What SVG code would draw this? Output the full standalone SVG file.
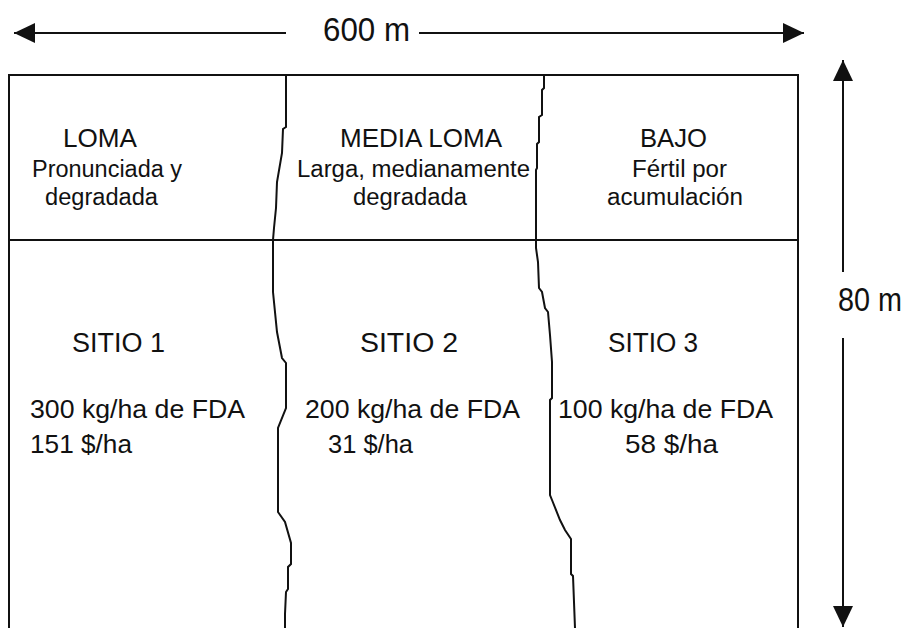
<svg xmlns="http://www.w3.org/2000/svg" width="912" height="628" viewBox="0 0 912 628">
<style>
.ln{fill:none;stroke:#111;stroke-width:2;stroke-linejoin:miter}
.t{font-family:"Liberation Sans",Arial,sans-serif;fill:#111}
.h{font-size:26px}
.s{font-size:27px}
.d{font-size:23px}
.v{font-size:25px}
.m{font-size:33px}
</style>
<defs>
<marker id="ah" markerUnits="userSpaceOnUse" markerWidth="22" markerHeight="22" refX="21" refY="10" orient="auto-start-reverse" viewBox="0 0 22 20">
<path d="M0,0 L21,10 L0,20 Z" fill="#111"/>
</marker>
</defs>
<rect width="912" height="628" fill="#fff"/>
<g id="frame">
<path class="ln" d="M9,628 V75 H798 V628"/>
<path class="ln" d="M9,240 H798"/>
<path class="ln" d="M286,75 V127 L283,129 L282,153 L277,182 L276,208 L274,228 L273,240 V292 L277,332 L282,358 L286,363 V408 L278,428 V512 L285,522 L291,543 V564 L288,567 V589 L286,592 L285,614 V628"/>
<path class="ln" d="M544,75 V88 L542,90 V115 L539,117 V142 L537,144 V168 L536,170 V248 L538,262 L539,288 L542,292 L545,308 L548,312 L550,335 L552,362 V398 L550,400 V495 L552,500 L560,520 L565,530 L571,539 V574 L573,576 L575,628"/>
</g>
<g id="col-loma">
<text class="t h" x="63" y="147" textLength="74" lengthAdjust="spacingAndGlyphs">LOMA</text>
<text class="t d" x="32" y="177" textLength="150" lengthAdjust="spacingAndGlyphs">Pronunciada y</text>
<text class="t d" x="45" y="205" textLength="113" lengthAdjust="spacingAndGlyphs">degradada</text>
<text class="t s" x="72" y="352" textLength="93" lengthAdjust="spacingAndGlyphs">SITIO 1</text>
<text class="t v" x="30" y="418" textLength="215" lengthAdjust="spacingAndGlyphs">300 kg/ha de FDA</text>
<text class="t v" x="30" y="453" textLength="102" lengthAdjust="spacingAndGlyphs">151 $/ha</text>
</g>
<g id="col-media-loma">
<text class="t h" x="340" y="147" textLength="162" lengthAdjust="spacingAndGlyphs">MEDIA LOMA</text>
<text class="t d" x="297" y="177" textLength="233" lengthAdjust="spacingAndGlyphs">Larga, medianamente</text>
<text class="t d" x="353" y="205" textLength="114" lengthAdjust="spacingAndGlyphs">degradada</text>
<text class="t s" x="360" y="352" textLength="98" lengthAdjust="spacingAndGlyphs">SITIO 2</text>
<text class="t v" x="305" y="418" textLength="215" lengthAdjust="spacingAndGlyphs">200 kg/ha de FDA</text>
<text class="t v" x="328" y="453" textLength="85" lengthAdjust="spacingAndGlyphs">31 $/ha</text>
</g>
<g id="col-bajo">
<text class="t h" x="640" y="147" textLength="67" lengthAdjust="spacingAndGlyphs">BAJO</text>
<text class="t d" x="632" y="177" textLength="95" lengthAdjust="spacingAndGlyphs">Fértil por</text>
<text class="t d" x="607" y="205" textLength="136" lengthAdjust="spacingAndGlyphs">acumulación</text>
<text class="t s" x="608" y="352" textLength="90" lengthAdjust="spacingAndGlyphs">SITIO 3</text>
<text class="t v" x="558" y="418" textLength="215" lengthAdjust="spacingAndGlyphs">100 kg/ha de FDA</text>
<text class="t v" x="625" y="453" textLength="93" lengthAdjust="spacingAndGlyphs">58 $/ha</text>
</g>
<g id="connectors">
<line class="ln" x1="286" y1="33" x2="14" y2="33" marker-end="url(#ah)"/>
<line class="ln" x1="419" y1="33" x2="804" y2="33" marker-end="url(#ah)"/>
<line class="ln" x1="843" y1="272" x2="843" y2="60" marker-end="url(#ah)"/>
<line class="ln" x1="843" y1="338" x2="843" y2="627" marker-end="url(#ah)"/>
</g>
<g id="labels">
<text class="t m" x="838" y="311" textLength="64" lengthAdjust="spacingAndGlyphs">80 m</text>
<text class="t m" x="323" y="41" textLength="87" lengthAdjust="spacingAndGlyphs">600 m</text>
</g>
</svg>
